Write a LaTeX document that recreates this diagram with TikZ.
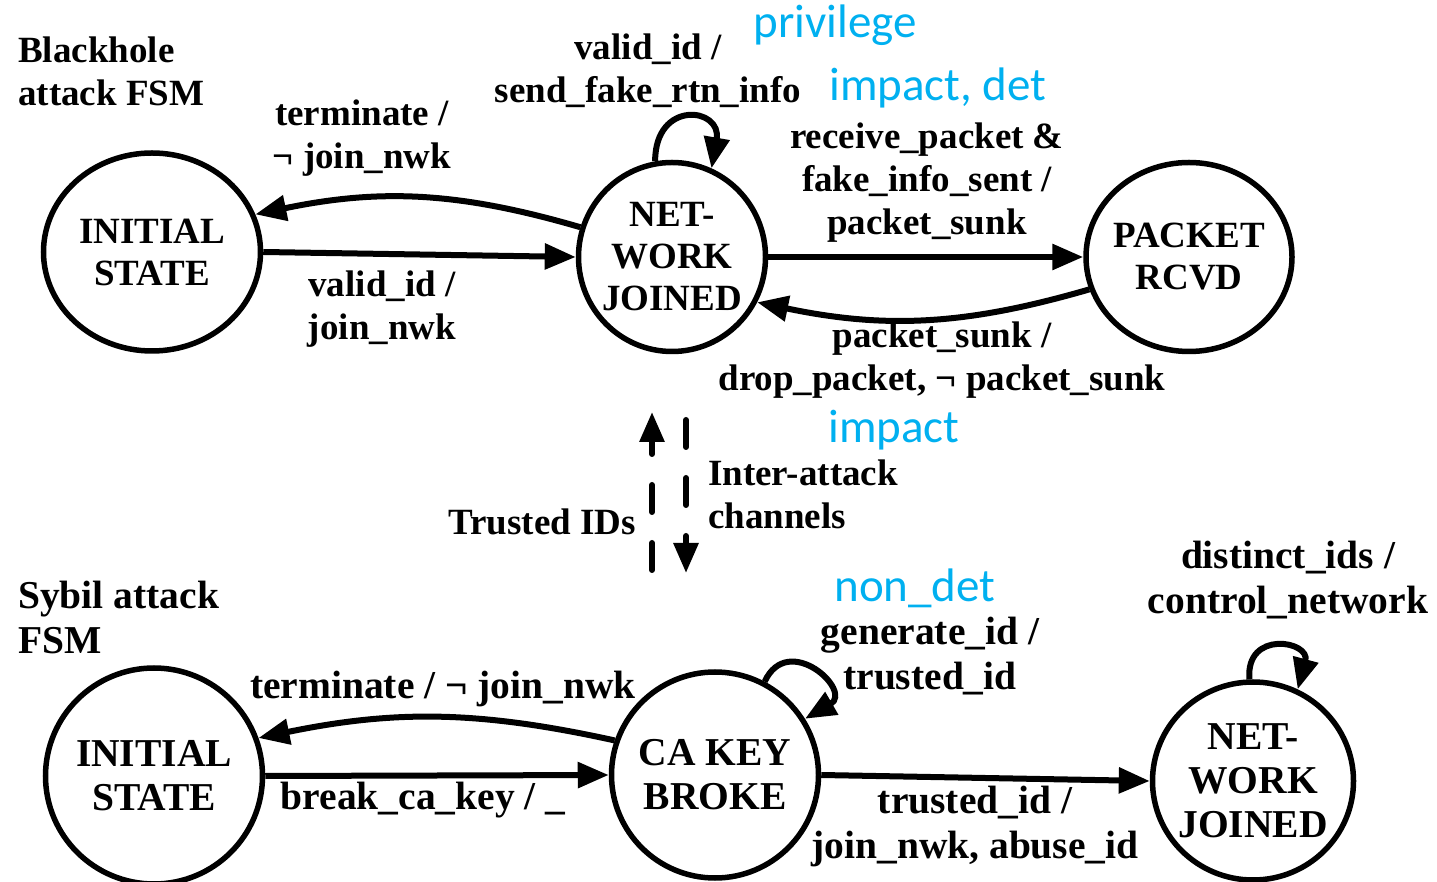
\documentclass[tikz,border=0pt]{standalone}
\usepackage{fontspec}
\setmainfont{Liberation Serif}
\newfontfamily\bluefont{Carlito}
\usetikzlibrary{shapes.geometric,arrows.meta}
\definecolor{pblue}{RGB}{0,176,240}
\begin{document}
\begin{tikzpicture}[x=1pt,y=1pt,
 state/.style={ellipse,draw,line width=5.5pt,inner sep=-20pt,align=center,font=\fontsize{37}{42}\selectfont\bfseries},
 stateb/.style={state,font=\fontsize{39.5}{44}\selectfont\bfseries},
 lab/.style={align=center,inner sep=0pt,font=\fontsize{37}{43}\selectfont\bfseries},
 labb/.style={lab,font=\fontsize{39.5}{45}\selectfont\bfseries},
 blab/.style={inner sep=0pt,text=pblue,font=\fontsize{47}{50}\selectfont\bluefont},
 arr/.style={line width=6pt,-{Triangle[length=31pt,width=25pt]}},
 dasharr/.style={line width=6pt,line cap=round,dash pattern=on 27pt off 31pt,-{Triangle[length=30pt,width=24pt]}},
]
\useasboundingbox (0,0) rectangle (1437,881);
\fill[white] (0,0) rectangle (1437,881);
% states
\node[state,minimum width=217pt,minimum height=198pt] (i1) at (152,629) {INITIAL\\STATE};
\node[state,minimum width=187pt,minimum height=189pt] (n1) at (672,624) {NET-\\WORK\\JOINED};
\node[state,minimum width=206pt,minimum height=189pt] (p1) at (1189,624) {PACKET\\RCVD};
\node[stateb,minimum width=217pt,minimum height=216pt] (i2) at (154,105) {INITIAL\\STATE};
\node[stateb,minimum width=207pt,minimum height=206pt] (c2) at (715,106) {CA KEY\\BROKE};
\node[stateb,minimum width=201pt,minimum height=198pt] (n2) at (1253,100) {NET-\\WORK\\JOINED};
% labels
\node[lab,align=left,anchor=west] (t1) at (18,810) {Blackhole\\attack FSM};
\node[lab] (l1) at (648,810) {valid\_id /\\send\_fake\_rtn\_info};
\node[blab] (b1) at (835,856) {privilege};
\node[blab] (b2) at (938,793) {impact, det};
\node[lab] (l2) at (362,743) {terminate /\\¬ join\_nwk};
\node[lab] (l3) at (927,698) {receive\_packet \&\\fake\_info\_sent /\\packet\_sunk};
\node[lab] (l4) at (382,572) {valid\_id /\\join\_nwk};
\node[lab] (l5) at (942,521) {packet\_sunk /\\drop\_packet, ¬ packet\_sunk};
\node[blab] (b3) at (894,451) {impact};
\node[lab,align=left,anchor=west] (l6) at (708,387) {Inter-attack\\channels};
\node[lab,anchor=east] (l7) at (636,359) {Trusted IDs};
\node[labb,align=left,anchor=west] (t2) at (18,264) {Sybil attack\\FSM};
\node[blab] (b4) at (915,293) {non\_det};
\node[labb] (l8) at (930,225) {generate\_id /\\trusted\_id};
\node[labb] (l9) at (1288,301) {distinct\_ids /\\control\_network};
\node[labb] (l10) at (443,192) {terminate / ¬ join\_nwk};
\node[labb] (l11) at (423,81) {break\_ca\_key / \_};
\node[labb] (l12) at (975,55) {trusted\_id /\\join\_nwk, abuse\_id};
% top transitions
\draw[arr] (i1.east) -- (n1.west);
\draw[arr] (n1.162) to[bend right=14] (i1.20);
\draw[arr] (n1.east) -- (p1.west);
\draw[arr] (p1.198) to[bend left=14] (n1.-28);
\draw[arr] (n1.100) to[out=90,in=80,looseness=2.8] (n1.66);
% bottom transitions
\draw[arr] (i2.east) -- (c2.west);
\draw[arr] (c2.161) to[bend right=12] (i2.20);
\draw[arr] (c2.east) -- (n2.west);
\draw[arr] (c2.62) to[out=65,in=30,looseness=2.6] (c2.32);
\draw[arr] (n2.92) to[out=95,in=75,looseness=2.6] (n2.64);
% inter-attack channels
\coordinate (dl0) at (652,311);
\coordinate (dl1) at (652,469);
\coordinate (dr0) at (686,461);
\coordinate (dr1) at (686,308);
\draw[dasharr] (dl0) -- (dl1);
\draw[dasharr] (dr0) -- (dr1);
\end{tikzpicture}
\end{document}
